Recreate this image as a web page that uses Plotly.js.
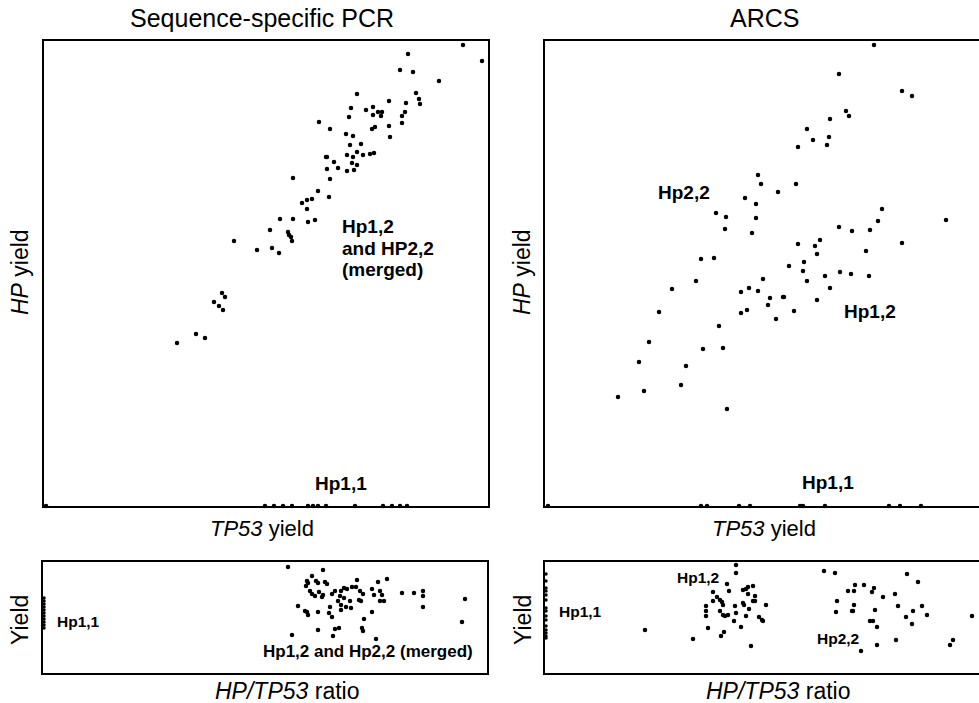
<!DOCTYPE html>
<html>
<head>
<meta charset="utf-8">
<script src="https://cdn.plot.ly/plotly-3.0.1.min.js"></script>
<style>
  html, body { margin: 0; padding: 0; overflow: hidden; background: #fff; }
  #chart { width: 990px; height: 703px; }
</style>
</head>
<body>
<div id="chart"></div>
<script>
// ---- Data (arbitrary yield / ratio units) ----
// Sequence-specific PCR: HP yield vs TP53 yield
const pcrMergedX = [419,364,438,356,369,395,313,372,375,376,345,362,307,329,322,334,338,329,337,361,358,305,275,286,358,331,328,345,346,302,309,306,317,282,283,290,303,309,313,319,326,330,308,313,294,283,303,310,286,249,274,268,263,258,263,285,236,249,264,271,226,244,245,247,248,190,213,228,235,178,181,170,175,179,152,161,133];
const pcrMergedY = [461,452,445,436,434,425,412,413,407,402,405,403,398,399,396,394,394,391,390,394,390,389,384,377,383,379,377,380,369,372,370,361,362,349,349,344,351,349,354,351,352,353,343,341,338,337,335,336,327,328,315,307,306,303,297,309,287,287,284,286,276,274,271,269,265,265,256,258,253,213,209,204,200,196,172,168,163];
const pcrHp11X = [2,221,230,239,248,264,269,274,282,311,339,348,356,363];
const pcrHp11Y = [0,0,0,0,0,0,0,0,0,0,0,0,0,0];

// ARCS: HP yield vs TP53 yield
const arcsX = [329,294,357,367,301,304,285,262,268,284,282,253,213,216,251,233,200,211,171,181,211,180,207,337,333,401,294,307,325,357,253,270,275,272,321,156,169,244,259,258,262,280,295,306,324,285,225,238,239,272,249,231,151,127,114,104,94,99,73,141,136,158,178,174,182,196,204,213,218,196,202,223];
const arcsY = [461,432,415,410,395,390,387,377,366,369,361,359,331,322,322,314,308,302,293,289,288,277,273,297,285,286,279,275,276,263,262,260,266,252,255,247,248,240,244,235,225,230,234,232,230,218,208,209,209,206,195,187,225,217,194,164,144,115,109,140,121,157,158,180,97,214,218,215,227,193,196,201];
const arcsHp11X = [3,156,162,194,205,255,258,280,344,355,376];
const arcsHp11Y = [0,0,0,0,0,0,0,0,0,0,0];

// Sequence-specific PCR: yield vs HP/TP53 ratio
const pcrRatioX = [245,280,269,264,265,263,273,275,282,284,267,269,272,276,279,280,289,292,298,301,304,309,313,314,317,320,297,295,301,298,307,316,318,329,335,344,331,337,339,337,341,359,371,380,380,380,422,419,255,262,265,275,264,287,286,289,298,303,308,329,321,319,320,275,292,296,290,249,333];
const pcrRatioY = [106,103,97,92,90,87,92,90,91,89,82,79,77,81,76,78,79,82,82,85,84,86,86,93,82,79,77,72,75,68,72,73,72,84,91,94,78,82,78,72,72,80,80,82,77,66,74,51,67,62,58,61,61,66,60,56,63,66,65,61,54,45,42,43,44,45,37,38,34];
const pcrRatioHp11X = [1,1,1,1,1,1,1,1,1,1,1];
const pcrRatioHp11Y = [75,72,69,66,63,60,57,54,51,48,45];

// ARCS: yield vs HP/TP53 ratio
const arcsRatioX = [100,148,191,191,182,184,168,168,172,175,177,178,161,161,161,175,178,180,163,179,176,206,190,191,183,189,196,201,198,201,203,208,203,210,198,199,208,210,204,221,214,217,218,279,290,303,309,310,319,327,329,338,350,292,309,291,307,308,330,353,362,373,368,377,361,367,382,325,328,332,332,316,351,427,408,405];
const arcsRatioY = [43,34,108,100,89,82,81,72,76,73,71,68,67,62,57,62,58,57,45,41,37,27,67,60,58,52,46,57,83,84,86,87,79,77,70,68,72,72,64,68,56,53,52,102,100,82,82,88,88,81,85,76,79,72,68,61,62,62,63,67,99,91,62,67,56,49,58,52,52,46,28,22,33,57,33,28];
const arcsRatioHp11X = [1,1,1,1,1,1,1,1,1,1,1,1,1,1,1];
const arcsRatioHp11Y = [99,92,85,82,78,73,65,62,57,53,47,43,40,37,35];

const titles = ["Sequence-specific PCR", "ARCS"];

// ---- Layout helpers ----
const W = 990, H = 703;
const FONT = "Liberation Sans, Arial, Helvetica, sans-serif";
function dom(a, b, total) { return [a / total, b / total]; }
function ydom(top, bottom) { return [(H - bottom) / H, (H - top) / H]; }

function axis(d, range, lw) {
  return {
    domain: d, range: range, showgrid: false, zeroline: false,
    showticklabels: false, ticks: "", showline: true, mirror: true,
    linecolor: "#000", linewidth: lw || 1.6, fixedrange: true
  };
}

function pts(x, y, xa, ya) {
  return {
    type: "scatter", mode: "markers", x: x, y: y, xaxis: xa, yaxis: ya,
    marker: { color: "#000", size: 4.5 }, cliponaxis: false,
    hoverinfo: "skip", showlegend: false
  };
}

function ann(px, py, text, size, opts) {
  return Object.assign({
    xref: "paper", yref: "paper", x: px / W, y: 1 - py / H,
    text: text, showarrow: false, xanchor: "center", yanchor: "middle",
    font: { family: FONT, size: size, color: "#000" }
  }, opts || {});
}

const data = [
  pts(pcrMergedX, pcrMergedY, "x", "y"),
  pts(pcrHp11X, pcrHp11Y, "x", "y"),
  pts(arcsX, arcsY, "x2", "y2"),
  pts(arcsHp11X, arcsHp11Y, "x2", "y2"),
  pts(pcrRatioX, pcrRatioY, "x3", "y3"),
  Object.assign(pts(pcrRatioHp11X, pcrRatioHp11Y, "x3", "y3"), { marker: { color: "#000", size: 3.5 } }),
  pts(arcsRatioX, arcsRatioY, "x4", "y4"),
  Object.assign(pts(arcsRatioHp11X, arcsRatioHp11Y, "x4", "y4"), { marker: { color: "#000", size: 3.5 } })
];

const layout = {
  width: W, height: H,
  margin: { l: 0, r: 0, t: 0, b: 0 },
  paper_bgcolor: "#fff", plot_bgcolor: "#fff",
  showlegend: false,
  xaxis:  Object.assign(axis(dom(44, 488, W), [0, 444]), { anchor: "y" }),
  yaxis:  Object.assign(axis(ydom(41, 506), [0, 465]), { anchor: "x" }),
  xaxis2: Object.assign(axis(dom(545, 989, W), [0, 444]), { anchor: "y2" }),
  yaxis2: Object.assign(axis(ydom(41, 506), [0, 465]), { anchor: "x2" }),
  xaxis3: Object.assign(axis(dom(43, 487, W), [0, 444]), { anchor: "y3" }),
  yaxis3: Object.assign(axis(ydom(562, 673), [0, 111]), { anchor: "x3" }),
  xaxis4: Object.assign(axis(dom(545, 989, W), [0, 444]), { anchor: "y4" }),
  yaxis4: Object.assign(axis(ydom(562, 673), [0, 111]), { anchor: "x4" }),
  annotations: [
    ann(262, 18, titles[0], 25),
    ann(764, 18, titles[1], 25),
    ann(20, 272, "<i>HP</i> yield", 23, { textangle: -90 }),
    ann(522, 272, "<i>HP</i> yield", 23, { textangle: -90 }),
    ann(262, 528, "<i>TP53</i> yield", 22),
    ann(764, 528, "<i>TP53</i> yield", 22),
    ann(20, 620, "Yield", 23, { textangle: -90 }),
    ann(523, 620, "Yield", 23, { textangle: -90 }),
    ann(287, 691, "<i>HP/TP53</i> ratio", 23),
    ann(778, 691, "<i>HP/TP53</i> ratio", 23),
    // top-left labels
    ann(340, 226, "<b>Hp1,2</b>", 19, { xanchor: "left" }),
    ann(340, 248, "<b>and HP2,2</b>", 19, { xanchor: "left" }),
    ann(340, 270, "<b>(merged)</b>", 19, { xanchor: "left" }),
    ann(341, 483, "<b>Hp1,1</b>", 19),
    // top-right labels
    ann(684, 193, "<b>Hp2,2</b>", 19),
    ann(870, 311, "<b>Hp1,2</b>", 19),
    ann(828, 482, "<b>Hp1,1</b>", 19),
    // bottom-left labels
    ann(55, 621, "<b>Hp1,1</b>", 15.5, { xanchor: "left" }),
    ann(368, 651, "<b>Hp1,2 and Hp2,2 (merged)</b>", 17),
    // bottom-right labels
    ann(557, 611, "<b>Hp1,1</b>", 15.5, { xanchor: "left" }),
    ann(698, 577, "<b>Hp1,2</b>", 15.5),
    ann(838, 638, "<b>Hp2,2</b>", 15.5)
  ]
};

Plotly.newPlot("chart", data, layout, { staticPlot: true, displayModeBar: false });
</script>
</body>
</html>
